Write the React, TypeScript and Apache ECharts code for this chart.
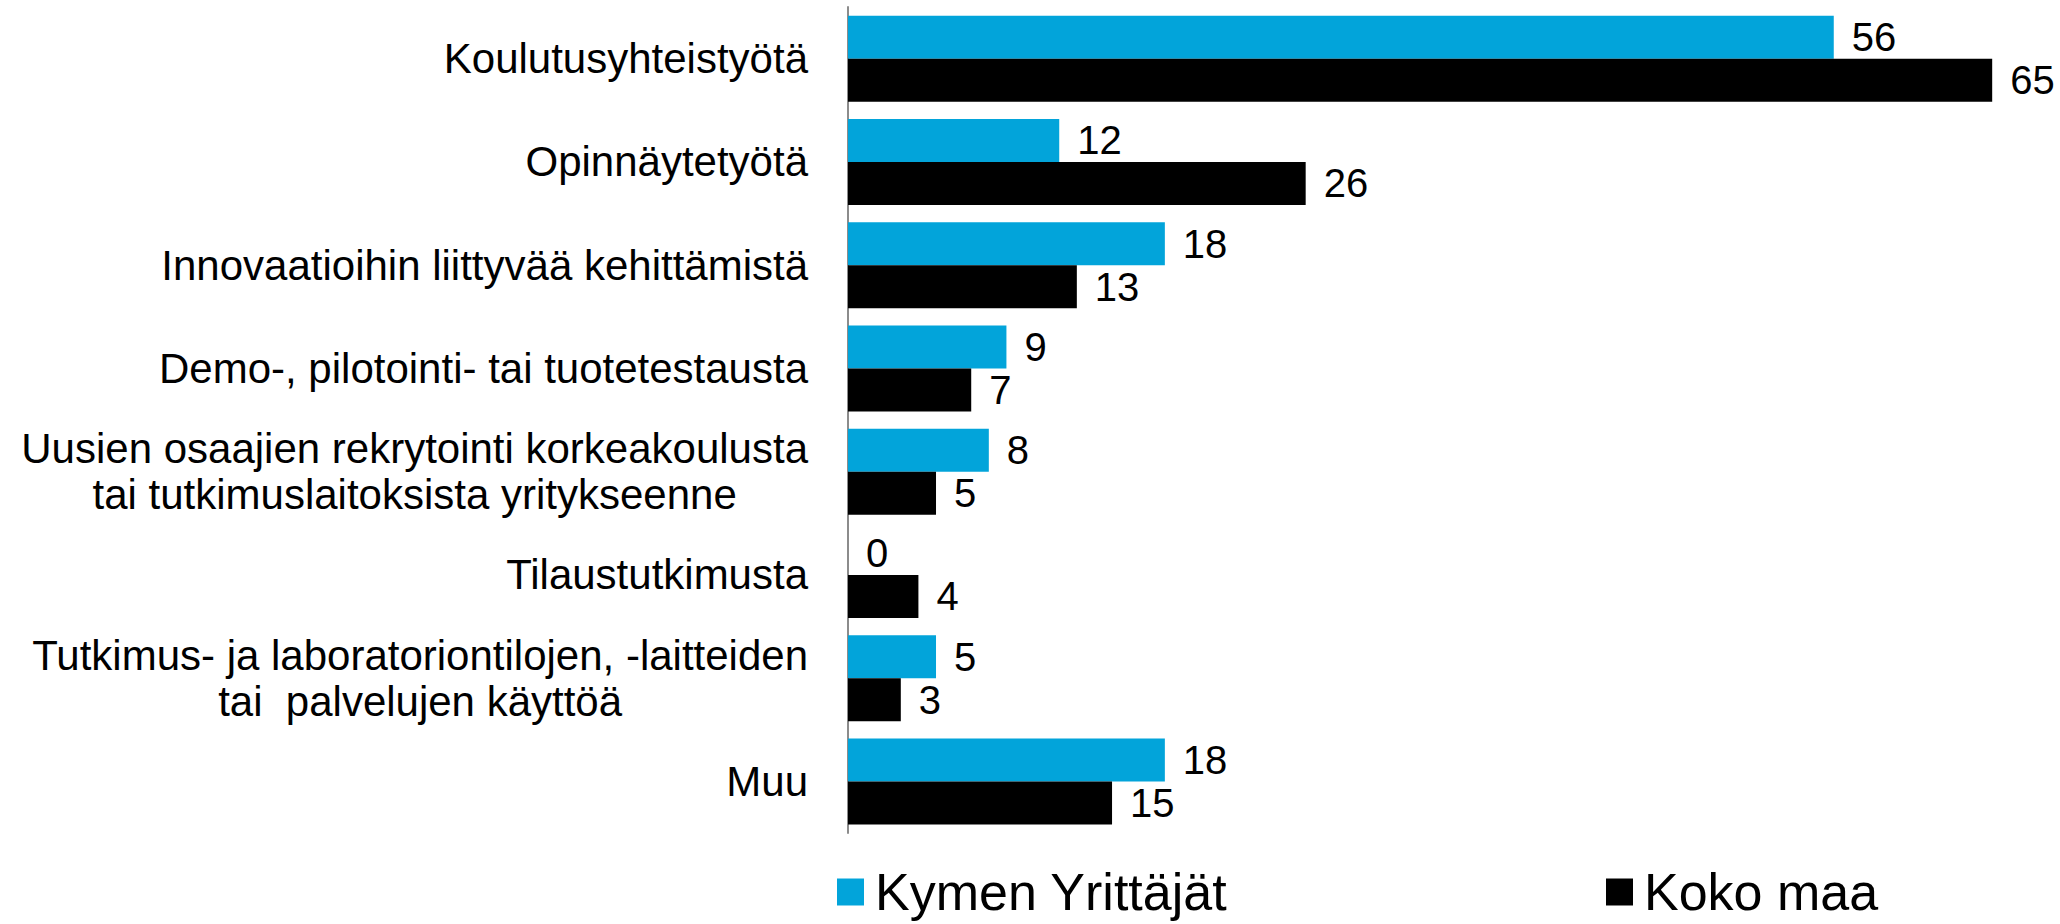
import React, { useEffect, useRef } from "react";
import * as echarts from "echarts";

const categories: string[][] = [
  ["Koulutusyhteistyötä"],
  ["Opinnäytetyötä"],
  ["Innovaatioihin liittyvää kehittämistä"],
  ["Demo-, pilotointi- tai tuotetestausta"],
  ["Uusien osaajien rekrytointi korkeakoulusta", "tai tutkimuslaitoksista yritykseenne"],
  ["Tilaustutkimusta"],
  ["Tutkimus- ja laboratoriontilojen, -laitteiden", "tai  palvelujen käyttöä"],
  ["Muu"],
];
const seriesNames = ["Kymen Yrittäjät", "Koko maa"];
const kymen = [56, 12, 18, 9, 8, 0, 5, 18];
const kokoMaa = [65, 26, 13, 7, 5, 4, 3, 15];

const FONT = "'Liberation Sans', Arial, sans-serif";

export default function App() {
  const ref = useRef<HTMLDivElement>(null);
  useEffect(() => {
    document.body.style.margin = "0";
    const chart = echarts.init(ref.current!, null, { renderer: "svg" });
    const catKeys = categories.map((c) => c.join("\n"));
    const legendText = { fontSize: 52, color: "#000", fontFamily: FONT, lineHeight: 50, padding: [0, 0, 0, 6] };
    chart.setOption({
      animation: false,
      textStyle: { fontFamily: FONT },
      grid: { left: 848, top: 7, bottom: 91, right: 15, containLabel: false },
      xAxis: {
        type: "value",
        min: 0,
        max: 68,
        show: false,
      },
      yAxis: {
        type: "category",
        inverse: true,
        data: catKeys,
        axisLine: { show: true, lineStyle: { color: "#8c8c8c", width: 2 } },
        axisTick: { show: false },
        axisLabel: {
          margin: 40,
          color: "#000",
          fontFamily: FONT,
          fontSize: 42,
          lineHeight: 46,
          formatter: (v: string) =>
            v
              .split("\n")
              .map((l) => "{c|" + l + "}")
              .join("\n"),
          rich: {
            c: { align: "center", fontSize: 42, lineHeight: 46, fontFamily: FONT, color: "#000" },
          },
        },
      },
      legend: [
        {
          data: [seriesNames[0]],
          left: 837,
          top: 866,
          padding: 0,
          itemWidth: 27,
          itemHeight: 27,
          icon: "rect",
          textStyle: legendText,
        },
        {
          data: [seriesNames[1]],
          left: 1606,
          top: 866,
          padding: 0,
          itemWidth: 27,
          itemHeight: 27,
          icon: "rect",
          textStyle: legendText,
        },
      ],
      series: [
        {
          name: seriesNames[0],
          type: "bar",
          data: kymen,
          barWidth: 43,
          barGap: "0%",
          itemStyle: { color: "#02A4DA" },
          label: {
            show: true,
            position: "right",
            distance: 18,
            fontSize: 40,
            color: "#000",
            fontFamily: FONT,
          },
        },
        {
          name: seriesNames[1],
          type: "bar",
          data: kokoMaa,
          barWidth: 43,
          barGap: "0%",
          itemStyle: { color: "#000000" },
          label: {
            show: true,
            position: "right",
            distance: 18,
            fontSize: 40,
            color: "#000",
            fontFamily: FONT,
          },
        },
      ],
    });
    return () => chart.dispose();
  }, []);
  return <div ref={ref} style={{ width: 2060, height: 924 }} />;
}
